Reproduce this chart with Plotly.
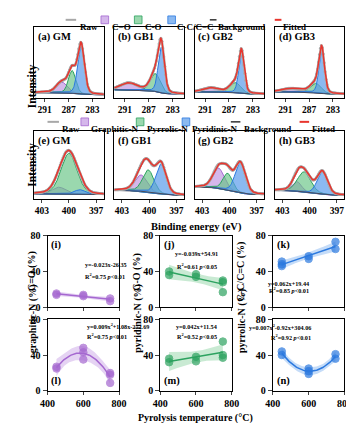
import numpy as np
import plotly.graph_objects as go

W, H = 354, 423

# ---- XPS peak fits (centre eV, height, sigma), heights normalised to panel ----
c1s_names = ['(a) GM', '(b) GB1', '(c) GB2', '(d) GB3']
c1s_co_double = [(288.1, 0.15, 0.9), (290.3, 0.10, 1.4), (290.0, 0.06, 1.3), (290.0, 0.05, 1.5)]
c1s_co_single = [(286.4, 0.32, 0.6), (285.9, 0.25, 0.8), (285.9, 0.14, 0.9), (285.9, 0.13, 0.9)]
c1s_cc = [(284.9, 0.70, 0.55), (284.9, 0.64, 0.5), (284.9, 0.55, 0.45), (284.9, 0.60, 0.45)]
c1s_bg = [(0.07, 0.04), (0.11, 0.05), (0.08, 0.05), (0.08, 0.05)]

n1s_names = ['(e) GM', '(f) GB1', '(g) GB2', '(h) GB3']
n1s_graphitic = [(401.1, 0.10, 0.7), (400.9, 0.24, 0.65), (401.2, 0.30, 0.6), (401.4, 0.14, 0.5)]
n1s_pyrrolic = [(400.0, 0.60, 0.85), (400.1, 0.33, 0.6), (400.2, 0.25, 0.5), (400.6, 0.30, 0.7)]
n1s_pyridinic = [(398.8, 0.07, 0.6), (398.7, 0.44, 0.55), (398.8, 0.44, 0.55), (398.6, 0.33, 0.55)]
n1s_bg = [(0.07, 0.06), (0.12, 0.05), (0.17, 0.06), (0.12, 0.05)]

# ---- composition vs pyrolysis temperature ----
co_double_vals = {450: [15.5, 14], 600: [14, 12.5], 750: [10, 7]}
co_single_vals = {450: [40, 36], 600: [37, 34], 750: [30, 28, 17]}
cc_vals = {450: [51, 48, 46], 600: [57, 54], 750: [73, 65]}
graphitic_vals = {450: [27, 25], 600: [48, 43, 35], 750: [20, 18, 9]}
pyridinic_vals = {450: [36, 32], 600: [38, 33], 750: [55, 40, 37]}
pyrrolic_vals = {450: [44, 40], 600: [25, 22, 19], 750: [41, 36]}

eq_i = ['y=-0.023x-26.35', 'R<sup>2</sup>=0.75 <i>p</i><0.01']
eq_j = ['y=-0.039x+54.91', 'R<sup>2</sup>=0.61 <i>p</i><0.05']
eq_k = ['y=0.062x+19.44', 'R<sup>2</sup>=0.85 <i>p</i><0.01']
eq_l = ['y=0.009x<sup>2</sup>+1.08x-272.69', 'R<sup>2</sup>=0.75 <i>p</i><0.01']
eq_m = ['y=0.042x+11.54', 'R<sup>2</sup>=0.52 <i>p</i><0.05']
eq_n = ['y=0.007x<sup>2</sup>-0.92x+304.06', 'R<sup>2</sup>=0.92 <i>p</i><0.01']

PURPLE, PURPLE_F = '#a567d0', 'rgba(190,145,225,0.65)'
GREEN, GREEN_F = '#2ca25f', 'rgba(100,195,130,0.65)'
BLUE, BLUE_F = '#2b79df', 'rgba(90,155,235,0.70)'
RED = '#e8352e'
FONT = 'Liberation Serif'


def px(x):
    return x / W


def py(y):
    return 1 - y / H


def gauss(x, p):
    c, h, s = p
    return h * (0.8 * np.exp(-(x - c) ** 2 / (2 * s ** 2)) + 0.2 / (1 + ((x - c) / (1.4 * s)) ** 2))


def shirley(x, comps, left, right):
    # x descending (high BE first); step background following the peaks
    tot = np.sum(comps, axis=0)
    cum = np.cumsum(tot[::-1])[::-1]
    return right + (left - right) * cum / cum[0]


fig = go.Figure()

top_cols = [(19, 92), (103, 176), (187, 260), (271, 344)]
bot_cols = [(33, 108), (151, 226), (269, 344)]
rows = {'c1s': (13, 86), 'n1s': (120, 190), 'mid': (228, 302), 'bot': (314, 388)}

ax_i = 0


def new_axes(col, row, **kw):
    global ax_i
    ax_i += 1
    xa = 'xaxis' if ax_i == 1 else 'xaxis%d' % ax_i
    ya = 'yaxis' if ax_i == 1 else 'yaxis%d' % ax_i
    xr = 'x' if ax_i == 1 else 'x%d' % ax_i
    yr = 'y' if ax_i == 1 else 'y%d' % ax_i
    common = dict(showline=True, mirror=True, linecolor='black', linewidth=1,
                  showgrid=False, zeroline=False)
    fig.layout[xa] = {**common, 'domain': [px(col[0]), px(col[1])], 'anchor': yr, **kw.get('x', {})}
    fig.layout[ya] = {**common, 'domain': [py(row[1]), py(row[0])], 'anchor': xr, **kw.get('y', {})}
    return xr, yr


def spectra(col, row, comps_p, bgp, name, xr_range, ticks):
    x = np.linspace(xr_range[0], xr_range[1], 300)
    comps = [gauss(x, p) for p in comps_p]
    bg = shirley(x, comps, *bgp)
    fit = bg + np.sum(comps, axis=0)
    xa, ya = new_axes(col, row,
                      x=dict(range=xr_range, tickvals=ticks, ticks='outside', ticklen=3,
                             tickfont=dict(size=9.5, weight='bold')),
                      y=dict(range=[0, 1], showticklabels=False, ticks=''))
    for cp, lc, fc in zip(comps, [PURPLE, GREEN, BLUE], [PURPLE_F, GREEN_F, BLUE_F]):
        fig.add_trace(go.Scatter(x=np.concatenate([x, x[::-1]]), y=np.concatenate([bg + cp, bg[::-1]]),
                                 fill='toself', fillcolor=fc, line=dict(color=lc, width=1),
                                 mode='lines', xaxis=xa, yaxis=ya, showlegend=False, hoverinfo='skip'))
    fig.add_trace(go.Scatter(x=x, y=bg, mode='lines', line=dict(color='#4a4a5a', width=1),
                             xaxis=xa, yaxis=ya, showlegend=False))
    fig.add_trace(go.Scatter(x=x[::4], y=fit[::4], mode='lines+markers',
                             line=dict(color='#b0b0b0', width=2.5), marker=dict(size=3, color='#a8a8a8'),
                             xaxis=xa, yaxis=ya, showlegend=False))
    fig.add_trace(go.Scatter(x=x, y=fit, mode='lines', line=dict(color=RED, width=1.5),
                             xaxis=xa, yaxis=ya, showlegend=False))
    fig.add_annotation(x=px(col[0] + 2), y=py(row[0] + 2), xref='paper', yref='paper',
                       text=name, showarrow=False, xanchor='left', yanchor='top',
                       font=dict(size=10.5, weight='bold'))


for k in range(4):
    spectra(top_cols[k], rows['c1s'], [c1s_co_double[k], c1s_co_single[k], c1s_cc[k]],
            c1s_bg[k], c1s_names[k], [292.76, 281.08], [291, 287, 283])
for k in range(4):
    spectra(top_cols[k], rows['n1s'], [n1s_graphitic[k], n1s_pyrrolic[k], n1s_pyridinic[k]],
            n1s_bg[k], n1s_names[k], [403.84, 396.16], [403, 400, 397])


def scatter_panel(col, row, vals, deg, lc, fc, label, eq, eq_y, label_top, ytitle, show_x, eq_dx=1):
    xs, ys = [], []
    for t, v in vals.items():
        xs += [t] * len(v)
        ys += v
    xs = np.array(xs, float)
    ys = np.array(ys, float)
    xa, ya = new_axes(col, row,
                      x=dict(range=[400, 800], tickvals=[400, 600, 800], ticks='outside', ticklen=3,
                             showticklabels=show_x, tickfont=dict(size=10, weight='bold')),
                      y=dict(range=[0, 80], tickvals=[0, 40, 80], ticks='outside', ticklen=4,
                             tickfont=dict(size=10, weight='bold')))
    X = np.vander(xs, deg + 1)
    coef, *_ = np.linalg.lstsq(X, ys, rcond=None)
    res = ys - X @ coef
    dof = len(ys) - deg - 1
    s2 = res @ res / dof
    cov = s2 * np.linalg.inv(X.T @ X)
    xf = np.linspace(450, 750, 60)
    Xf = np.vander(xf, deg + 1)
    yf = Xf @ coef
    se = np.sqrt(np.einsum('ij,jk,ik->i', Xf, cov, Xf))
    band = 2.45 * se
    fig.add_trace(go.Scatter(x=np.concatenate([xf, xf[::-1]]), y=np.concatenate([yf + band, (yf - band)[::-1]]),
                             fill='toself', fillcolor=fc, line=dict(width=0), mode='lines',
                             xaxis=xa, yaxis=ya, showlegend=False))
    fig.add_trace(go.Scatter(x=xf, y=yf, mode='lines', line=dict(color=lc, width=1.5),
                             xaxis=xa, yaxis=ya, showlegend=False))
    fig.add_trace(go.Scatter(x=xs, y=ys, mode='markers',
                             marker=dict(size=7.5, color=lc, opacity=0.7, line=dict(color=lc, width=1)),
                             xaxis=xa, yaxis=ya, showlegend=False))
    cx = (col[0] + col[1]) / 2 + eq_dx
    for line_txt, yy in zip(eq, eq_y):
        fig.add_annotation(x=px(cx), y=py(yy), xref='paper', yref='paper', text=line_txt,
                           showarrow=False, borderpad=0, font=dict(size=6.2, weight='bold'))
    ly = row[0] + 2 if label_top else row[1] - 2
    fig.add_annotation(x=px(col[0] + 2), y=py(ly), xref='paper', yref='paper', text=label,
                       showarrow=False, xanchor='left', yanchor='top' if label_top else 'bottom',
                       font=dict(size=10.5, weight='bold'))
    fig.add_annotation(x=px(col[0] - 24), y=py((row[0] + row[1]) / 2), xref='paper', yref='paper',
                       text=ytitle, textangle=-90, showarrow=False, font=dict(size=10, weight='bold'))


scatter_panel(bot_cols[0], rows['mid'], co_double_vals, 1, PURPLE, 'rgba(190,145,225,0.4)', '(i)',
              eq_i, [258, 270], True, 'C=O (%)', False)
scatter_panel(bot_cols[1], rows['mid'], co_single_vals, 1, GREEN, 'rgba(100,195,130,0.35)', '(j)',
              eq_j, [247, 259], True, 'C-O (%)', False)
scatter_panel(bot_cols[2], rows['mid'], cc_vals, 1, BLUE, 'rgba(90,155,235,0.35)', '(k)',
              eq_k, [277, 289], True, 'C-C/C=C (%)', False)
scatter_panel(bot_cols[0], rows['bot'], graphitic_vals, 2, PURPLE, 'rgba(190,145,225,0.4)', '(l)',
              eq_l, [326, 337], False, 'graphitic-N (%)', True, 3)
scatter_panel(bot_cols[1], rows['bot'], pyridinic_vals, 1, GREEN, 'rgba(100,195,130,0.35)', '(m)',
              eq_m, [326, 337], False, 'pyridinic-N (%)', True)
scatter_panel(bot_cols[2], rows['bot'], pyrrolic_vals, 2, BLUE, 'rgba(90,155,235,0.35)', '(n)',
              eq_n, [327, 338], False, 'pyrrolic-N (%)', True, 4)


# ---- hand made legends ----
def leg_line(x0, x1, y, color, width=2):
    fig.add_shape(type='line', xref='paper', yref='paper', x0=px(x0), x1=px(x1), y0=py(y), y1=py(y),
                  line=dict(color=color, width=width))


def leg_box(x0, y, fc, lc):
    fig.add_shape(type='rect', xref='paper', yref='paper', x0=px(x0), x1=px(x0 + 8),
                  y0=py(y + 4), y1=py(y - 4), fillcolor=fc, line=dict(color=lc, width=0.8))


def leg_text(x, y, txt):
    fig.add_annotation(x=px(x), y=py(y), xref='paper', yref='paper', text=txt, showarrow=False,
                       xanchor='left', xshift=-1, font=dict(size=9, weight='bold'))


ly1 = 6
leg_line(52, 63, ly1, '#a8a8a8'); leg_text(66, ly1, 'Raw')
leg_box(89, ly1, PURPLE_F, PURPLE); leg_text(99, ly1, 'C=O')
leg_box(124, ly1, GREEN_F, GREEN); leg_text(134, ly1, 'C-O')
leg_box(159, ly1, BLUE_F, BLUE); leg_text(168, ly1, 'C-C/C=C')
leg_line(203, 210, ly1, '#333333', 1.5); leg_text(211, ly1, 'Background')
leg_line(271, 278, ly1, RED); leg_text(279, ly1, 'Fitted')

ly2 = 111
leg_line(33, 45, ly2, '#a8a8a8'); leg_text(47, ly2, 'Raw')
leg_box(68, ly2, PURPLE_F, PURPLE); leg_text(78, ly2, 'Graphitic-N')
leg_box(126, ly2, GREEN_F, GREEN); leg_text(136, ly2, 'Pyrrolic-N')
leg_box(174, ly2, BLUE_F, BLUE); leg_text(183, ly2, 'Pyridinic-N')
leg_line(225, 235, ly2, '#333333', 1.5); leg_text(238, ly2, 'Background')
leg_line(297, 307, ly2, RED); leg_text(309, ly2, 'Fitted')

for yy in [(13 + 86) / 2, (120 + 190) / 2]:
    fig.add_annotation(x=px(8), y=py(yy), xref='paper', yref='paper', text='Intensity', textangle=-90,
                       showarrow=False, font=dict(size=11.5, weight='bold'))
fig.add_annotation(x=px(189), y=py(219), xref='paper', yref='paper', text='Binding energy (eV)',
                   showarrow=False, font=dict(size=10.5, weight='bold'))
fig.add_annotation(x=px(188), y=0, xref='paper', yref='paper', yanchor='bottom',
                   text='Pyrolysis temperature (°C)',
                   showarrow=False, borderpad=0, font=dict(size=10, weight='bold'))

fig.update_layout(width=W, height=H, margin=dict(l=0, r=0, t=0, b=0),
                  paper_bgcolor='white', plot_bgcolor='white',
                  font=dict(family=FONT, color='black', size=10, weight='bold'),
                  showlegend=False)

fig.write_html("out.html")
